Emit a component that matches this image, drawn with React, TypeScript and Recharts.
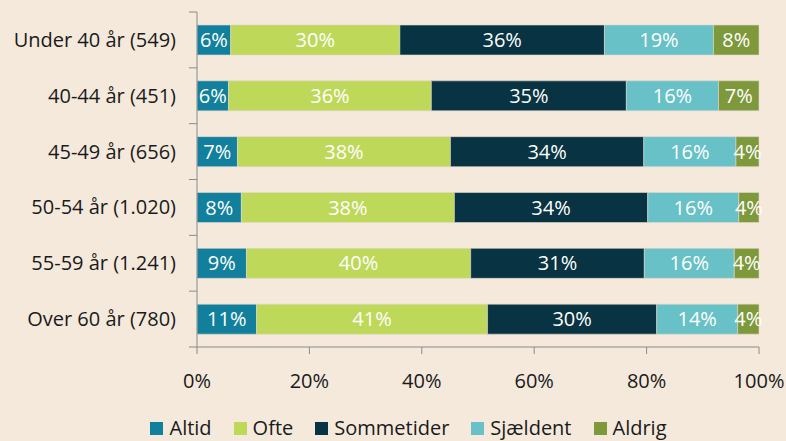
import { BarChart, Bar, XAxis, YAxis, Legend, LabelList } from "recharts";

const categories = ["Under 40 år (549)", "40-44 år (451)", "45-49 år (656)", "50-54 år (1.020)", "55-59 år (1.241)", "Over 60 år (780)"];
const altid = [6.0, 5.6, 7.2, 7.9, 8.8, 10.6];
const ofte = [30.1, 36.1, 37.9, 37.9, 39.9, 41.1];
const sommetider = [36.4, 34.7, 34.4, 34.4, 30.9, 30.1];
const sjaeldent = [19.4, 16.4, 16.4, 16.2, 16.0, 14.4];
const aldrig = [8.1, 7.2, 4.1, 3.6, 4.4, 3.8];
const xTicks = [0, 20, 40, 60, 80, 100];

const series = [
  { key: "Altid", values: altid, color: "#127f9c" },
  { key: "Ofte", values: ofte, color: "#bed85a" },
  { key: "Sommetider", values: sommetider, color: "#073342" },
  { key: "Sjældent", values: sjaeldent, color: "#68c1c6" },
  { key: "Aldrig", values: aldrig, color: "#7e983c" },
];

const data = categories.map((name, i) => {
  const row: any = { name };
  series.forEach((s) => (row[s.key] = s.values[i]));
  return row;
});

const FONT = "'Open Sans', 'Noto Sans', sans-serif";
const AXIS = "#8a8a8a";
const TEXT = "#1a1a1a";
const FS = 20;

// category label + tick mark on band boundary (Excel style)
function CatTick(props: any) {
  const { x, y, payload, index } = props;
  const half = payload && payload.offset ? payload.offset : 28;
  const axisX = x + 21;
  return (
    <g>
      <text x={x} y={y} dy="0.35em" textAnchor="end" fill={TEXT} fontSize={FS} fontFamily={FONT}>
        {payload.value}
      </text>
      {index === 0 && <line x1={axisX - 8} x2={axisX} y1={y - half} y2={y - half} stroke={AXIS} />}
      <line x1={axisX - 8} x2={axisX} y1={y + half} y2={y + half} stroke={AXIS} />
    </g>
  );
}

function LegendContent() {
  return (
    <div style={{ display: "flex", justifyContent: "center", alignItems: "center", paddingTop: 8, lineHeight: "26px", fontFamily: FONT, fontSize: FS, color: TEXT }}>
      {series.map((s, i) => (
        <div key={s.key} style={{ display: "flex", alignItems: "center", marginRight: i < series.length - 1 ? 22 : 0 }}>
          <span style={{ display: "inline-block", width: 13, height: 13, background: s.color, marginRight: 6 }} />
          <span>{s.key}</span>
        </div>
      ))}
    </div>
  );
}

export default function App() {
  return (
    <div style={{ position: "absolute", left: 0, top: 0, width: 786, height: 441, background: "#f5e9dc" }}>
      <BarChart
        width={786}
        height={441}
        data={data}
        layout="vertical"
        margin={{ top: 12, right: 27, left: 0, bottom: 0 }}
        barSize={30}
      >
        <XAxis
          type="number"
          domain={[0, 100]}
          ticks={xTicks}
          tickFormatter={(v) => v + "%"}
          axisLine={{ stroke: AXIS }}
          tickLine={{ stroke: AXIS }}
          tickSize={7}
          tickMargin={20}
          height={60}
          tick={{ fill: TEXT, fontSize: FS, fontFamily: FONT }}
          interval={0}
        />
        <YAxis
          type="category"
          dataKey="name"
          width={197}
          axisLine={{ stroke: AXIS }}
          tickLine={false}
          tickSize={0}
          tickMargin={21}
          tick={<CatTick />}
          interval={0}
        />
        <Legend verticalAlign="bottom" height={34} content={<LegendContent />} wrapperStyle={{ left: 29 }} />
        {series.map((s) => (
          <Bar key={s.key} dataKey={s.key} stackId="a" fill={s.color} stroke="#e2d9cc" strokeWidth={0.6} isAnimationActive={false}>
            <LabelList
              dataKey={s.key}
              position="center"
              fill="#ffffff"
              fontSize={FS}
              fontFamily={FONT}
              formatter={(v: any) => Math.round(v) + "%"}
            />
          </Bar>
        ))}
      </BarChart>
    </div>
  );
}
